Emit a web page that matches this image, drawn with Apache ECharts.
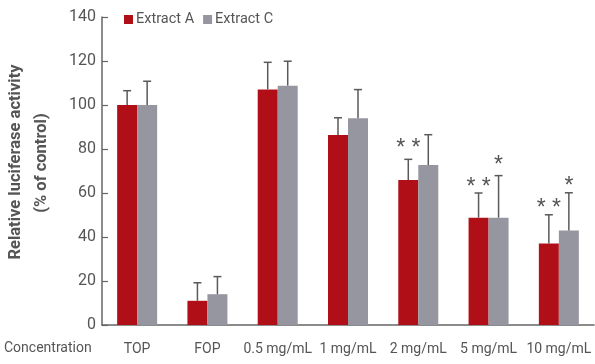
<!DOCTYPE html>
<html><head><meta charset="utf-8">
<script src="https://cdn.jsdelivr.net/npm/echarts@6/dist/echarts.min.js"></script>
<style>html,body{margin:0;padding:0;background:#fff}#c{width:595px;height:364px}</style>
</head><body><div id="c"></div>
<script>
var categories = ['TOP', 'FOP', '0.5 mg/mL', '1 mg/mL', '2 mg/mL', '5 mg/mL', '10 mg/mL'];
var extractA = [100, 11.0, 107.1, 86.4, 65.9, 48.8, 37.1];
var extractC = [100, 14.0, 108.8, 94.0, 72.7, 48.8, 42.9];
var errTopA = [106.5, 19.2, 119.4, 94.2, 75.3, 60.0, 50.1];
var errTopC = [110.8, 22.0, 119.9, 107.0, 86.5, 67.9, 60.1];
var starsA = ['', '', '', '', '* *', '* *', '* *'];
var starsC = ['', '', '', '', '', '*', '*'];
var starLevelA = [0, 0, 0, 0, 82.6, 64.7, 55.0];
var starLevelC = [0, 0, 0, 0, 0, 74.7, 65.1];
var yTicks = [0, 20, 40, 60, 80, 100, 120, 140];
var yTitle = ['Relative luciferase activity', '(% of control)'];
var xTitle = 'Concentration';

var FONT = "Roboto, 'Liberation Sans', sans-serif";
var RED = '#b10f18', GRAY = '#9696a0', ERR = '#5a5a5a', TXT = '#555';
var BAR_OFF = 10;

function errSeries(vals, tops, off) {
  var data = vals.map(function (v, i) { return [i, v, tops[i]]; });
  return {
    type: 'custom', silent: true, z: 5,
    data: data,
    renderItem: function (params, api) {
      var i = api.value(0);
      var p0 = api.coord([i, api.value(1)]);
      var p1 = api.coord([i, api.value(2)]);
      var x = p0[0] + off;
      return {
        type: 'group',
        children: [
          { type: 'line', shape: { x1: x, y1: p0[1], x2: x, y2: p1[1] }, style: { stroke: ERR, lineWidth: 1.5 } },
          { type: 'line', shape: { x1: x - 4, y1: p1[1], x2: x + 4, y2: p1[1] }, style: { stroke: ERR, lineWidth: 1.5 } }
        ]
      };
    }
  };
}
function starSeries(txt, levels, off) {
  var data = [];
  txt.forEach(function (t, i) { if (t) data.push([i, levels[i], t]); });
  return {
    type: 'custom', silent: true, z: 6,
    data: data,
    renderItem: function (params, api) {
      var i = api.value(0);
      var p = api.coord([i, api.value(1)]);
      return {
        type: 'text',
        style: {
          x: p[0] + off, y: p[1] + 5, text: data[params.dataIndex][2],
          align: 'center', verticalAlign: 'middle',
          font: '23px ' + "'Liberation Sans', sans-serif", fill: TXT
        }
      };
    }
  };
}

var chart = echarts.init(document.getElementById('c'), null, { renderer: 'canvas' });
chart.setOption({
  animation: false,
  textStyle: { fontFamily: FONT },
  legend: {
    left: 119, top: 7, itemWidth: 9, itemHeight: 9, itemGap: 9,
    icon: 'rect',
    textStyle: { fontFamily: FONT, fontSize: 14.5, color: TXT, padding: [0, 0, 0, -2] },
    data: ['Extract A', 'Extract C']
  },
  grid: { left: 102, right: 1, top: 17, bottom: 39, containLabel: false, outerBoundsMode: 'none' },
  xAxis: {
    type: 'category', data: categories, boundaryGap: true,
    axisLine: { lineStyle: { color: '#666', width: 1.5 } },
    axisTick: { inside: true, length: 6, lineStyle: { color: '#666', width: 1.2 } },
    axisLabel: { color: TXT, fontSize: 14, margin: 17, fontFamily: FONT, interval: 0 }
  },
  yAxis: {
    type: 'value', min: yTicks[0], max: yTicks[yTicks.length - 1], interval: 20,
    axisLine: { show: true, lineStyle: { color: '#666', width: 1.5 } },
    axisTick: { show: true, inside: true, length: 6, lineStyle: { color: '#666', width: 1.2 } },
    splitLine: { show: false },
    axisLabel: { color: TXT, fontSize: 16, margin: 6, fontFamily: FONT }
  },
  graphic: [
    { type: 'text', left: 4, top: 341, style: { text: xTitle, font: '14px ' + FONT, fill: TXT } },
    { type: 'text', x: 16, y: 162, rotation: Math.PI / 2,
      style: { text: yTitle[0], font: 'bold 16.5px ' + FONT, fill: TXT, align: 'center', verticalAlign: 'middle' } },
    { type: 'text', x: 42, y: 163, rotation: Math.PI / 2,
      style: { text: yTitle[1], font: 'bold 16.5px ' + FONT, fill: TXT, align: 'center', verticalAlign: 'middle' } }
  ],
  series: [
    { name: 'Extract A', type: 'bar', data: extractA, barWidth: 20, barGap: '0%', itemStyle: { color: RED } },
    { name: 'Extract C', type: 'bar', data: extractC, barWidth: 20, barGap: '0%', itemStyle: { color: GRAY } },
    errSeries(extractA, errTopA, -BAR_OFF),
    errSeries(extractC, errTopC, BAR_OFF),
    starSeries(starsA, starLevelA, -BAR_OFF),
    starSeries(starsC, starLevelC, BAR_OFF)
  ]
});
</script></body></html>
